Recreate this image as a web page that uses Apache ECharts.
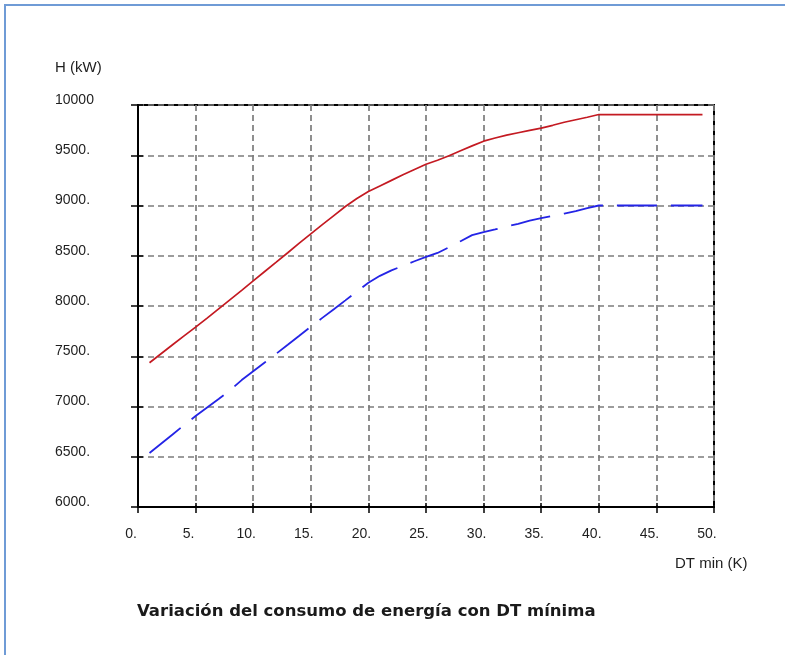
<!DOCTYPE html>
<html>
<head>
<meta charset="utf-8">
<script src="https://cdn.jsdelivr.net/npm/echarts@6/dist/echarts.min.js"></script>
<style>
html,body{margin:0;padding:0;background:#fff;}
#chart{width:785px;height:655px;}
</style>
</head>
<body>
<div id="chart"></div>
<script>
// DT min (K)
const dtMin = [1,2,3,4,5,6,7,8,9,10,11,12,13,14,15,16,17,18,19,20,21,22,23,24,25,26,27,28,29,30,31,32,33,34,35,36,37,38,39,40,41,42,43,44,45,46,47,48,49];
// H (kW) - red solid curve
const hRed = [7435,7525,7614,7702,7790,7880,7972,8064,8156,8250,8343,8436,8530,8625,8718,8810,8900,8990,9070,9140,9195,9250,9305,9358,9410,9450,9495,9545,9593,9640,9672,9700,9724,9747,9770,9798,9828,9853,9878,9905,9905,9905,9905,9905,9905,9905,9905,9905,9905];
// H (kW) - blue dashed curve
const hBlue = [6537,6630,6722,6815,6905,6990,7075,7162,7263,7350,7438,7525,7614,7704,7795,7882,7968,8056,8145,8232,8300,8355,8400,8445,8488,8528,8585,8645,8705,8735,8762,8790,8818,8850,8875,8898,8920,8945,8975,9000,9000,9000,9000,9000,9000,9000,9000,9000,9000];

const titleText = 'Variación del consumo de energía con DT mínima';
const yName = 'H (kW)';
const xName = 'DT min (K)';

const chart = echarts.init(document.getElementById('chart'), null, {renderer:'canvas'});
const tickFont = {fontFamily:'Liberation Sans', fontSize:14, color:'#1e1e1e'};
const gridLine = {show:true, lineStyle:{color:'#7c7c7c', width:1.7, type:[6,4]}};

chart.setOption({
  animation:false,
  backgroundColor:'#ffffff',
  title:{
    text:titleText, left:137, top:603, padding:0,
    textStyle:{fontFamily:'DejaVu Sans', fontWeight:'bold', fontSize:16.5, color:'#1a1a1a'}
  },
  grid:{left:138, right:71, top:105, bottom:148, show:true, borderColor:'#000', borderWidth:2, backgroundColor:'transparent'},
  xAxis:[{
    type:'value', min:0, max:50, interval:5, position:'bottom',
    axisLine:{show:true, onZero:false, lineStyle:{color:'#000', width:2}},
    axisTick:{show:true, length:6, lineStyle:{color:'#000', width:1.5}},
    axisLabel:{...tickFont, margin:20, padding:[0,14,0,0], formatter:v => v + '.'},
    splitLine:gridLine
  },{
    type:'value', min:0, max:50, interval:5, position:'bottom',
    axisLine:{show:false}, axisTick:{show:true, inside:true, length:4, lineStyle:{color:'#000', width:1.5}},
    axisLabel:{show:false}, splitLine:{show:false}
  }],
  yAxis:[{
    type:'value', min:6000, max:10000, interval:500, position:'left',
    axisLine:{show:true, onZero:false, lineStyle:{color:'#000', width:2}},
    axisTick:{show:true, length:7, lineStyle:{color:'#000', width:1.5}},
    axisLabel:{...tickFont, align:'left', verticalAlign:'bottom', lineHeight:10, margin:83, formatter:v => v === 10000 ? '10000' : v + '.'},
    splitLine:gridLine
  },{
    type:'value', min:6000, max:10000, interval:500, position:'left',
    axisLine:{show:false}, axisTick:{show:true, inside:true, length:5, lineStyle:{color:'#000', width:1.5}},
    axisLabel:{show:false}, splitLine:{show:false}
  }],
  graphic:[
    {type:'rect', shape:{x:5, y:5, width:900, height:900}, style:{fill:'none', stroke:'#6f9bd6', lineWidth:2}, silent:true},
    {type:'text', left:55, top:60, style:{text:yName, font:'15px "Liberation Sans"', fill:'#1e1e1e'}},
    {type:'text', left:675, top:556, style:{text:xName, font:'15px "Liberation Sans"', fill:'#1e1e1e'}}
  ],
  series:[{
    type:'line', name:'H rojo', xAxisIndex:0, yAxisIndex:0,
    data: dtMin.map((x,i)=>[x, hRed[i]]),
    showSymbol:false, symbol:'none',
    lineStyle:{color:'#c41a22', width:1.7}
  },{
    type:'line', name:'H azul', xAxisIndex:0, yAxisIndex:0,
    data: dtMin.map((x,i)=>[x, hBlue[i]]),
    showSymbol:false, symbol:'none',
    lineStyle:{color:'#2424e6', width:1.8, type:[40,14]}
  }]
});
</script>
</body>
</html>
